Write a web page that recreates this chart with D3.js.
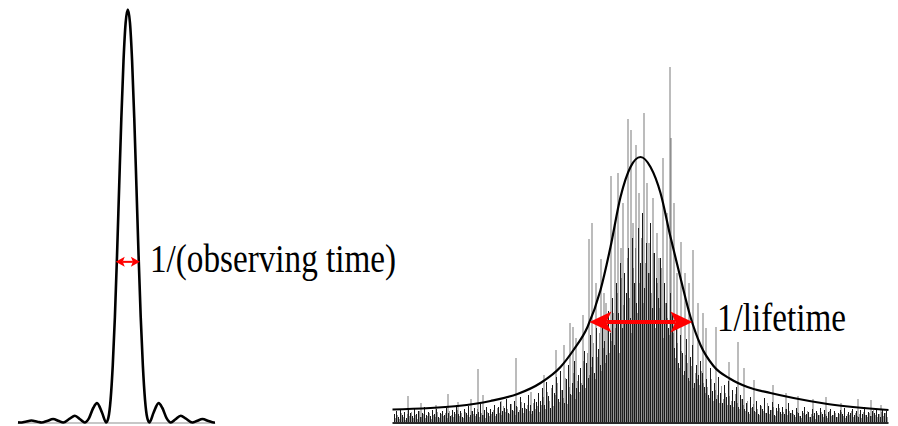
<!DOCTYPE html>
<html>
<head>
<meta charset="utf-8">
<script src="https://cdn.jsdelivr.net/npm/d3@7/dist/d3.min.js"></script>
<style>
  html, body { margin: 0; padding: 0; background: #fff; }
  svg { display: block; }
</style>
</head>
<body>
<svg id="chart" width="898" height="426"></svg>
<script>
// ---- Left: finite-observation line shape (frequency in units of 1/observing time)
const sincFreq = [-5.1, -5.0, -4.75, -4.48, -4.2, -4.0, -3.75, -3.47, -3.2, -3.0, -2.7, -2.46, -2.2, -2.0,
  -1.8, -1.6, -1.43, -1.2, -1.0, -0.9, -0.8, -0.7, -0.6, -0.5, -0.4, -0.3, -0.2, -0.1, 0,
  0.1, 0.2, 0.3, 0.4, 0.5, 0.6, 0.7, 0.8, 0.9, 1.0, 1.2, 1.43, 1.6, 1.8, 2.0, 2.2, 2.46, 2.7,
  3.0, 3.2, 3.47, 3.75, 4.0, 4.05];
const sincAmp = [0.0004, 0, 0.002, 0.005, 0.002, 0, 0.0036, 0.0083, 0.0034, 0, 0.0091, 0.0165, 0.0072, 0,
  0.0108, 0.0357, 0.047, 0.0243, 0, 0.012, 0.055, 0.137, 0.255, 0.405, 0.573, 0.737, 0.875, 0.968, 1,
  0.968, 0.875, 0.737, 0.573, 0.405, 0.255, 0.137, 0.055, 0.012, 0, 0.0243, 0.047, 0.0357, 0.0108, 0, 0.0072, 0.0165, 0.0091,
  0, 0.0034, 0.0083, 0.0036, 0, 0.0002];

// ---- Right: lifetime-broadened line, fitted envelope
const lorFreq = [-248, -183, -150, -123, -100, -80, -67, -53, -40, -30, -20, -10, 0,
  10, 20, 30, 40, 50, 60, 73, 90, 107, 130, 153, 187, 248];
const lorAmp = [13.5, 17, 22, 29, 40, 56, 73, 96, 133, 176, 226, 256, 266,
  256, 230, 186, 145, 106, 78, 57, 44, 36, 30, 25, 19, 13];

// ---- Right: measured spectrum, dense bins on two interleaved grids (start, spacing, amplitudes)
const noiseStartA = -246;
const noiseStartB = -245;
const noiseStep = 2;
const noiseAmpA = [
  9, 12, 6, 14, 8, 11, 5, 13, 10, 7, 15, 9, 12, 6, 10, 16, 8, 11, 7, 13, 9, 14, 6, 10,
  12, 8, 15, 10, 7, 13, 11, 18, 9, 12, 6, 14, 10, 17, 8, 12, 15, 9, 11, 19, 8, 13, 16, 10,
  14, 11, 18, 9, 16, 21, 12, 15, 24, 10, 19, 13, 22, 17, 11, 26, 15, 20, 14, 28, 18, 12, 24, 21, 30,
  22, 35, 18, 41, 27, 15, 38, 30, 46, 24, 52, 33, 20, 44, 58, 29, 40, 62, 35, 48,
  55, 38, 72, 60, 45, 88, 66, 50, 95, 74, 58, 104, 82, 68, 112,
  90, 125, 78, 140, 110, 160, 95, 150, 130, 175, 105, 185, 140, 120, 195, 160, 210, 135, 180, 150, 200,
  115, 170, 145, 125, 165, 100, 140, 120, 95, 130,
  110, 75, 98, 60, 88, 70, 52, 84, 45, 66, 78, 40, 58, 48, 62,
  50, 36, 44, 28, 55, 32, 40, 24, 46, 30, 20, 38, 26, 42, 18, 33, 22, 36, 16, 28,
  24, 14, 20, 11, 26, 16, 12, 22, 9, 18, 14, 25, 10, 17, 13, 21, 8, 15, 19, 11, 16, 9, 14, 20, 10,
  13, 8, 15, 10, 7, 12, 16, 9, 11, 6, 14, 10, 12, 8, 15, 9, 13, 7, 11, 14, 8, 12, 6, 10,
  13, 9, 15, 7, 11, 10, 14, 8, 12, 6, 13, 9, 16, 8, 11, 7, 12, 10, 14, 9, 6, 13, 10, 12
];
const noiseAmpB = [
  5, 8, 4, 10, 6, 3, 9, 7, 11, 5, 8, 4, 12, 6, 9, 5, 7, 10, 4, 8, 6, 11, 5, 9,
  7, 10, 5, 12, 8, 6, 9, 13, 7, 10, 5, 11, 8, 6, 12, 9, 7, 14, 6, 10, 8, 5, 11, 7,
  9, 13, 7, 15, 10, 8, 17, 11, 14, 9, 19, 12, 8, 16, 13, 21, 10, 15, 18, 12, 9, 20, 14, 17, 11,
  18, 26, 14, 31, 22, 35, 17, 28, 40, 21, 33, 25, 45, 19, 36, 28, 50, 24, 42, 31,
  40, 62, 35, 70, 48, 56, 80, 44, 66, 90, 52, 75, 60, 98, 70,
  82, 110, 95, 130, 70, 145, 118, 100, 165, 125, 90, 155, 175, 110, 140, 185, 120, 160, 100, 150,
  130, 170, 95, 140, 115, 155, 85, 120, 105, 88, 110,
  90, 65, 80, 55, 72, 48, 68, 60, 42, 57, 35, 50, 44, 38, 52,
  40, 30, 36, 25, 44, 22, 33, 28, 20, 37, 24, 30, 18, 27, 22, 16, 29, 20, 14, 24,
  18, 12, 22, 9, 15, 19, 11, 14, 8, 17, 12, 10, 20, 9, 13, 16, 7, 12, 15, 9, 11, 14, 8, 12, 10,
  9, 6, 11, 7, 5, 10, 8, 12, 6, 9, 7, 4, 10, 8, 11, 6, 9, 5, 12, 7, 8, 10, 6, 9,
  11, 7, 5, 9, 8, 12, 6, 10, 7, 9, 5, 11, 8, 6, 10, 7, 13, 8, 6, 9, 11, 7, 10, 6
];

// ---- Right: isolated tall spikes of the measured spectrum
const spikeFreq = [-233, -220, -205, -193, -183, -170, -163, -158, -140, -125,
  -110, -97, -85, -77, -71, -68, -65, -58, -52, -49,
  -45, -40, -37, -35, -30, -26, -23, -20, -18, -13,
  -10, -8, -5, -2, 3, 6, 8, 12, 16, 18,
  22, 26, 29, 30, 33, 36, 40, 44, 48, 52,
  57, 62, 65, 75, 88, 97, 103, 113, 132, 145,
  157, 172, 185, 200, 217, 230, 240];
const spikeAmp = [27, 20, 18, 29, 21, 24, 54, 28, 22, 65,
  31, 48, 73, 78, 100, 96, 85, 108, 184, 200,
  140, 164, 130, 120, 247, 200, 250, 175, 220, 304,
  293, 200, 278, 230, 310, 240, 180, 225, 190, 165,
  265, 210, 356, 285, 220, 150, 181, 150, 140, 173,
  120, 110, 95, 96, 61, 81, 55, 43, 38, 30,
  27, 24, 26, 20, 24, 23, 18];

// ---- Width markers: [level, from, to] in each panel's data units
const leftMarker = [0.389, -0.56, 0.56];
const rightMarker = [101, -51, 52];
const markerLabels = ["1/(observing time)", "1/lifetime"];

const svg = d3.select("#chart");

// ================= Left panel =================
const xL = d3.scaleLinear().domain([-5.1, 4.05]).range([18, 215]);
const yL = d3.scaleLinear().domain([0, 1]).range([422.5, 9.5]);

svg.append("line")
  .attr("x1", xL(-5.1)).attr("x2", xL(4.05))
  .attr("y1", yL(0) + 0.5).attr("y2", yL(0) + 0.5)
  .attr("stroke", "#b4b4b4").attr("stroke-width", 1.6);

const sincPts = sincFreq.map((f, i) => [f, sincAmp[i]]);
svg.append("path")
  .datum(sincPts)
  .attr("fill", "none")
  .attr("stroke", "#000")
  .attr("stroke-width", 2.6)
  .attr("stroke-linejoin", "round")
  .attr("d", d3.line().x(d => xL(d[0])).y(d => yL(d[1])).curve(d3.curveMonotoneX));

// ================= Right panel =================
const xR = d3.scaleLinear().domain([-248, 248]).range([392.5, 888.5]);
const yR = d3.scaleLinear().domain([0, 280]).range([423, 143]);

function binLines(pts, colour, opacity) {
  svg.append("g")
    .selectAll("line")
    .data(pts)
    .join("line")
    .attr("x1", d => xR(d[0])).attr("x2", d => xR(d[0]))
    .attr("y1", yR(0)).attr("y2", d => yR(d[1]))
    .attr("stroke", colour)
    .attr("stroke-opacity", opacity)
    .attr("stroke-width", 1);
}

// dense measured bins: lighter interleaved grid first, darker grid on top
binLines(noiseAmpB.map((a, i) => [noiseStartB + i * noiseStep, a]), "#8a8a8a", 0.85);
binLines(noiseAmpA.map((a, i) => [noiseStartA + i * noiseStep, a]), "#000", 0.9);

// tall isolated spikes
const spikePts = spikeFreq.map((f, i) => [f, spikeAmp[i]]);
svg.append("g")
  .selectAll("line")
  .data(spikePts)
  .join("line")
  .attr("x1", d => xR(d[0]) + 0.5).attr("x2", d => xR(d[0]) + 0.5)
  .attr("y1", yR(0)).attr("y2", d => yR(d[1]))
  .attr("stroke", "#333")
  .attr("stroke-opacity", 0.6)
  .attr("stroke-width", 1.1);

// axis baseline
svg.append("line")
  .attr("x1", xR(-248)).attr("x2", xR(248))
  .attr("y1", yR(0)).attr("y2", yR(0))
  .attr("stroke", "#2a2a2a").attr("stroke-width", 2);

// fitted envelope
const lorPts = lorFreq.map((f, i) => [f, lorAmp[i]]);
svg.append("path")
  .datum(lorPts)
  .attr("fill", "none")
  .attr("stroke", "#000")
  .attr("stroke-width", 2.2)
  .attr("d", d3.line().x(d => xR(d[0])).y(d => yR(d[1])).curve(d3.curveMonotoneX));

// ================= Width markers =================
function doubleArrow(x1, x2, y, shaft, headLen, headHalf, notch) {
  const g = svg.append("g").attr("fill", "#ff0000").attr("stroke", "none");
  g.append("rect")
    .attr("x", x1 + headLen - notch).attr("y", y - shaft / 2)
    .attr("width", (x2 - x1) - 2 * (headLen - notch)).attr("height", shaft);
  const head = (tip, dir) => {
    const b = tip + dir * headLen;
    return `M${tip},${y} L${b},${y - headHalf} L${b - dir * notch},${y} L${b},${y + headHalf} Z`;
  };
  g.append("path").attr("d", head(x1, 1));
  g.append("path").attr("d", head(x2, -1));
}

doubleArrow(xL(leftMarker[1]), xL(leftMarker[2]), yL(leftMarker[0]), 2, 9, 5, 2);
doubleArrow(xR(rightMarker[1]), xR(rightMarker[2]), yR(rightMarker[0]), 4, 22, 10.5, 5);

const labelStyle = sel => sel
  .attr("font-family", "'Liberation Serif', 'Times New Roman', serif")
  .attr("font-size", 40)
  .attr("fill", "#000");

svg.append("text")
  .attr("transform", `translate(150,271.5) scale(0.83,1)`)
  .call(labelStyle)
  .text(markerLabels[0]);

svg.append("text")
  .attr("transform", `translate(717,330.5) scale(0.83,1)`)
  .call(labelStyle)
  .text(markerLabels[1]);
</script>
</body>
</html>
